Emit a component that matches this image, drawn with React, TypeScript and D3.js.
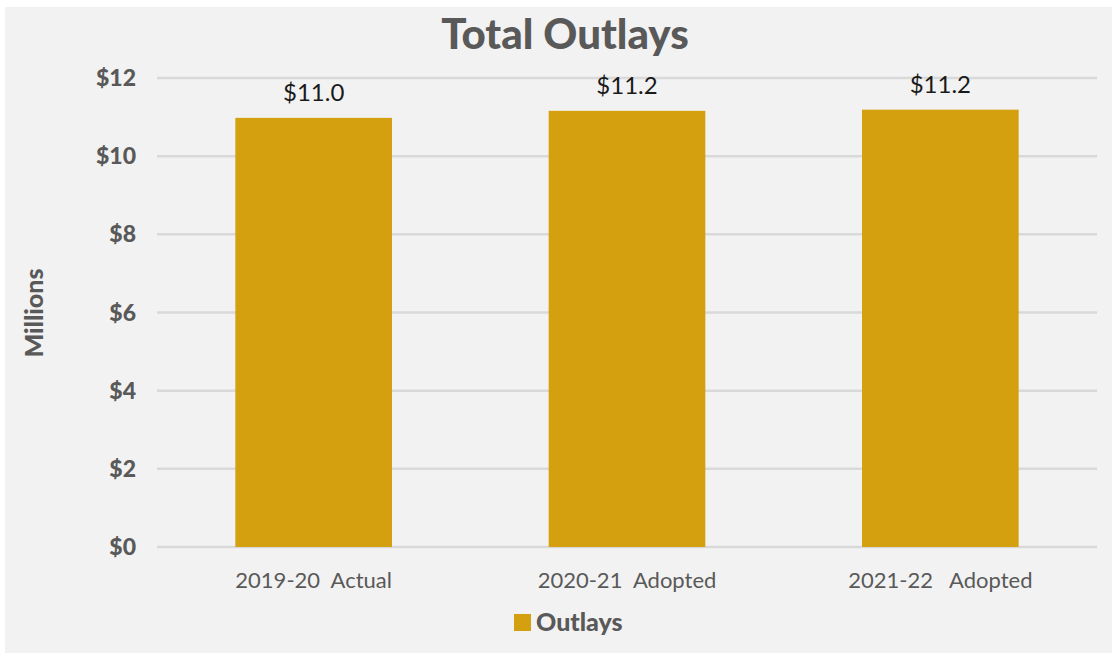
import { useEffect, useRef } from "react";
import * as d3 from "d3";

const categories = ["2019-20  Actual", "2020-21  Adopted", "2021-22   Adopted"];
const outlays = [10.98, 11.16, 11.19];
const yTicks = [0, 2, 4, 6, 8, 10, 12];

const W = 1117;
const H = 654;
const FONT = "Lato, 'Open Sans', sans-serif";

export default function App() {
  const svgRef = useRef<SVGSVGElement>(null);

  useEffect(() => {
    const svg = d3.select(svgRef.current);
    svg.selectAll("*").remove();

    const m = { left: 157, right: 1097, top: 78, bottom: 547 };

    svg.append("rect")
      .attr("x", 5).attr("y", 7)
      .attr("width", 1107).attr("height", 646)
      .attr("fill", "#f2f2f2");

    const x = d3.scaleBand().domain(categories).range([m.left, m.right]).paddingInner(0.5).paddingOuter(0.25);
    const y = d3.scaleLinear().domain([0, 12]).range([m.bottom, m.top]);

    // gridlines
    svg.append("g")
      .selectAll("line")
      .data(yTicks)
      .join("line")
      .attr("x1", m.left).attr("x2", m.right)
      .attr("y1", (d) => y(d)).attr("y2", (d) => y(d))
      .attr("stroke", "#d9d9d9")
      .attr("stroke-width", 2.5);

    // y tick labels
    svg.append("g")
      .selectAll("text")
      .data(yTicks)
      .join("text")
      .attr("x", 136)
      .attr("y", (d) => y(d))
      .attr("dy", "0.35em")
      .attr("text-anchor", "end")
      .attr("font-family", FONT)
      .attr("font-weight", 900)
      .attr("font-size", 23)
      .attr("fill", "#595959")
      .text((d) => `$${d}`);

    // bars
    svg.append("g")
      .selectAll("rect")
      .data(outlays)
      .join("rect")
      .attr("x", (d, i) => x(categories[i])!)
      .attr("y", (d) => y(d))
      .attr("width", x.bandwidth())
      .attr("height", (d) => y(0) - y(d))
      .attr("fill", "#d5a00f");

    // value labels
    svg.append("g")
      .selectAll("text")
      .data(outlays)
      .join("text")
      .attr("x", (d, i) => x(categories[i])! + x.bandwidth() / 2)
      .attr("y", (d) => y(d) - 17)
      .attr("text-anchor", "middle")
      .attr("font-family", FONT)
      .attr("font-size", 24)
      .attr("fill", "#1a1a1a")
      .text((d) => `$${d.toFixed(1)}`);

    // category labels
    svg.append("g")
      .selectAll("text")
      .data(categories)
      .join("text")
      .attr("x", (d) => x(d)! + x.bandwidth() / 2)
      .attr("y", 588)
      .attr("text-anchor", "middle")
      .attr("font-family", FONT)
      .attr("font-size", 22)
      .attr("fill", "#595959")
      .attr("xml:space", "preserve")
      .style("white-space", "pre")
      .text((d) => d);

    // title
    svg.append("text")
      .attr("x", 565).attr("y", 49)
      .attr("text-anchor", "middle")
      .attr("font-family", FONT)
      .attr("font-weight", 900)
      .attr("font-size", 42)
      .attr("fill", "#595959")
      .text("Total Outlays");

    // axis title
    svg.append("text")
      .attr("transform", "translate(43,313) rotate(-90)")
      .attr("text-anchor", "middle")
      .attr("font-family", FONT)
      .attr("font-weight", 900)
      .attr("font-size", 25)
      .attr("fill", "#595959")
      .text("Millions");

    // legend
    const lg = svg.append("g").attr("transform", "translate(514,614)");
    lg.append("rect").attr("width", 17).attr("height", 17).attr("fill", "#d5a00f");
    lg.append("text")
      .attr("x", 22).attr("y", 17)
      .attr("font-family", FONT)
      .attr("font-weight", 900)
      .attr("font-size", 25)
      .attr("fill", "#595959")
      .text("Outlays");
  }, []);

  return (
    <svg
      ref={svgRef}
      width={W}
      height={H}
      style={{ position: "absolute", left: 0, top: 0, display: "block", background: "#fff" }}
    />
  );
}
